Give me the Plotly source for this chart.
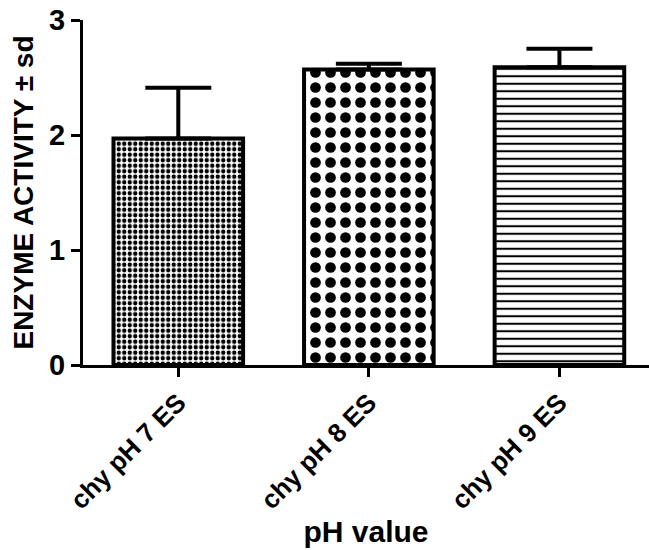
import plotly.graph_objects as go

categories = ["chy pH 7 ES", "chy pH 8 ES", "chy pH 9 ES"]
activity = [1.97, 2.57, 2.59]
sd = [0.44, 0.05, 0.16]
y_ticks = [0, 1, 2, 3]

FONT = "Liberation Sans, Arial, sans-serif"

fig = go.Figure()
fig.add_trace(go.Bar(
    x=categories,
    y=activity,
    marker=dict(
        color="white",
        line=dict(color="black", width=4),
        pattern=dict(
            shape=[".", ".", "-"],
            size=[5.5, 15, 7.5],
            solidity=[0.5, 0.4, 0.27],
            fgcolor="black",
            bgcolor="white",
            fillmode="replace",
        ),
    ),
    error_y=dict(
        type="data", symmetric=False, array=sd, arrayminus=[0, 0, 0],
        color="black", thickness=4, width=33,
    ),
    width=0.68,
))

fig.update_layout(
    width=649, height=550,
    margin=dict(l=83, r=0, t=20, b=185, autoexpand=False),
    plot_bgcolor="white", paper_bgcolor="white",
    showlegend=False,
    font=dict(family=FONT, color="black", weight="bold"),
    xaxis=dict(
        range=[-0.5, 2.47],
        automargin=False,
        showline=True, linecolor="black", linewidth=3,
        ticks="outside", ticklen=9, tickwidth=3, tickcolor="black",
        tickangle=-45,
        tickfont=dict(size=26, family=FONT, weight="bold"),
        title=dict(text="pH value", font=dict(size=30, family=FONT, weight="bold"), standoff=8),
        showgrid=False, zeroline=False,
    ),
    yaxis=dict(
        range=[0, 3],
        automargin=False,
        tickvals=y_ticks,
        showline=True, linecolor="black", linewidth=3,
        ticks="outside", ticklen=9, tickwidth=3, tickcolor="black",
        tickfont=dict(size=29, family=FONT, weight="bold"),
        title=dict(text="ENZYME ACTIVITY ± sd", font=dict(size=28, family=FONT, weight="bold"), standoff=8),
        showgrid=False, zeroline=False,
    ),
)

fig.write_html(
    "out.html",
    config={"displayModeBar": False},
    post_script="document.body.style.margin='0px';document.body.style.overflow='hidden';",
)
